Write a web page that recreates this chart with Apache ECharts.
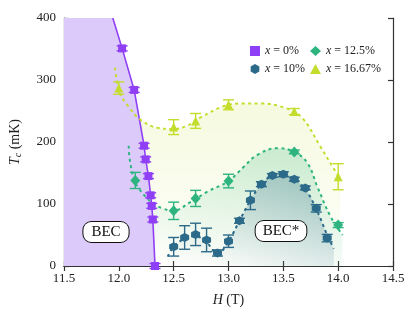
<!DOCTYPE html>
<html>
<head>
<meta charset="utf-8">
<script src="https://cdn.jsdelivr.net/npm/echarts@6/dist/echarts.min.js"></script>
<style>
  html, body { margin: 0; padding: 0; background: #fff; }
  #chart { width: 415px; height: 320px; }
</style>
</head>
<body>
<div id="chart"></div>
<script>
// measured points, x = 0%
const purpleH = [12.03, 12.14, 12.23, 12.245, 12.27, 12.29, 12.30, 12.31, 12.33];
const purpleT = [351, 284, 194, 172, 145, 114, 97, 75, 0];
const purpleErr = [4, 4, 4, 4, 4, 4, 4, 4, 4];
// phase boundary of x = 0% (continued up to the top of the frame)
const bounH = [11.945, 12.03, 12.14, 12.23, 12.245, 12.27, 12.29, 12.30, 12.31, 12.33];
const bounT = [400, 351, 284, 194, 172, 145, 114, 97, 75, 0];

// x = 16.67%
const yellowH = [12.0, 12.5, 12.7, 13.0, 13.6, 14.0];
const yellowT = [287, 224, 234, 260, 249, 144];
const yellowErr = [10, 12, 12, 8, 5, 21];
const yellowCurveH = [11.965, 11.98, 12.01, 12.09, 12.19, 12.35, 12.5, 12.62, 12.75, 12.96, 13.12, 13.3, 13.48, 13.66, 13.84, 13.95, 14.02];
const yellowCurveT = [320, 300, 278, 257, 237, 223, 221, 226, 240, 258, 262, 262, 257, 241, 192, 160, 140];

// x = 12.5%
const greenH = [12.15, 12.5, 12.7, 13.0, 13.6, 14.0];
const greenT = [138, 89, 109, 137, 184, 66];
const greenErr = [13, 14, 13, 11, 3, 4];
const greenCurveH = [12.09, 12.10, 12.14, 12.19, 12.31, 12.40, 12.49, 12.66, 12.81, 13.0, 13.14, 13.26, 13.45, 13.60, 13.72, 13.81, 13.93, 14.04];
const greenCurveT = [194, 171, 140, 123, 101, 93, 89, 104, 120, 137, 160, 179, 190, 184, 166, 128, 80, 50];

// x = 10%
const blueH = [12.5, 12.6, 12.7, 12.8, 12.9, 13.0, 13.1, 13.2, 13.3, 13.4, 13.5, 13.6, 13.7, 13.8, 13.9];
const blueT = [31, 46, 51, 42, 21, 40, 73, 106, 132, 146, 148, 140, 126, 93, 45];
const blueErr = [15, 19, 18, 19, 5, 10, 4, 15, 4, 3, 4, 3, 3, 6, 6];
const blueCurveH = [12.445, 12.5, 12.6, 12.7, 12.8, 12.9, 13.0, 13.1, 13.2, 13.3, 13.4, 13.5, 13.6, 13.7, 13.8, 13.9, 13.96];
const blueCurveT = [15, 31, 44, 48, 38, 20, 40, 73, 106, 132, 146, 149, 140, 124, 92, 50, 28];

const labels = {x0: '0%', x10: '10%', x125: '12.5%', x1667: '16.67%'};

const C_PURPLE = '#8f3ff5';
const C_YELLOW = '#c4dd2c';
const C_GREEN = '#2eb57f';
const C_BLUE = '#2c6a8a';
const FONT = 'Liberation Serif';

const zip = (a, b) => a.map((v, i) => [v, b[i]]);
const zip3 = (a, b, c) => a.map((v, i) => [v, b[i], c[i]]);

function renderErr(params, api) {
  const x = api.value(0), y = api.value(1), e = api.value(2);
  const hi = api.coord([x, y + e]);
  const lo = api.coord([x, y - e]);
  const w = 5.5;
  const style = {stroke: api.visual('color'), lineWidth: 1.4};
  return {
    type: 'group',
    children: [
      {type: 'line', shape: {x1: hi[0], y1: hi[1], x2: lo[0], y2: lo[1]}, style: style},
      {type: 'line', shape: {x1: hi[0] - w, y1: hi[1], x2: hi[0] + w, y2: hi[1]}, style: style},
      {type: 'line', shape: {x1: lo[0] - w, y1: lo[1], x2: lo[0] + w, y2: lo[1]}, style: style}
    ]
  };
}

function errSeries(H, T, E, color) {
  return {
    type: 'custom', renderItem: renderErr, z: 4, silent: true,
    itemStyle: {color: color},
    data: zip3(H, T, E)
  };
}

// soft fill under a guide curve
function fillSeries(H, T, fill) {
  return {
    type: 'line', data: zip(H, T), smooth: 0.4, symbol: 'none', z: 1, silent: true,
    lineStyle: {width: 0},
    areaStyle: {color: fill, opacity: 1}
  };
}

// dashed guide curve
function curveSeries(H, T, color) {
  return {
    type: 'line', data: zip(H, T), smooth: 0.4, symbol: 'none', z: 3, silent: true,
    lineStyle: {color: color, width: 2, type: [3, 3.5]}
  };
}

const hexagon = 'path://M0,-10L8.66,-5L8.66,5L0,10L-8.66,5L-8.66,-5Z';

const legendText = {
  fontFamily: FONT, fontSize: 12, color: '#222',
  rich: {i: {fontFamily: FONT, fontStyle: 'italic', fontSize: 12, color: '#222'}}
};
const legendFmt = n => '{i|x} = ' + labels[n];

const axisCommon = {
  type: 'value',
  axisLine: {show: true, lineStyle: {color: '#333', width: 1.2}},
  axisTick: {show: true, inside: true, length: 5, lineStyle: {color: '#333', width: 1.2}},
  splitLine: {show: false}
};

const option = {
  animation: false,
  backgroundColor: '#fff',
  grid: {left: 60, right: 22, top: 18, bottom: 54},
  legend: [
    {data: ['x0', 'x10'], orient: 'vertical', left: 245, top: 40, itemWidth: 10, itemHeight: 10, itemGap: 6,
     formatter: legendFmt, textStyle: legendText},
    {data: ['x125', 'x1667'], orient: 'vertical', left: 305, top: 40, itemWidth: 11, itemHeight: 10, itemGap: 6,
     formatter: legendFmt, textStyle: legendText}
  ],
  xAxis: [
    Object.assign({}, axisCommon, {
      min: 11.5, max: 14.5, interval: 0.5, position: 'bottom',
      axisLabel: {formatter: v => v.toFixed(1), fontFamily: FONT, fontSize: 13, color: '#222', margin: 6},
      name: '{i|H} (T)', nameLocation: 'middle', nameGap: 27,
      nameTextStyle: {fontFamily: FONT, fontSize: 14, color: '#222',
        rich: {i: {fontFamily: FONT, fontStyle: 'italic', fontSize: 14, color: '#222'}}}
    }),
    Object.assign({}, axisCommon, {
      min: 11.5, max: 14.5, interval: 0.5, position: 'top', axisLabel: {show: false}
    })
  ],
  yAxis: [
    Object.assign({}, axisCommon, {
      min: 0, max: 400, interval: 100, position: 'left',
      axisLabel: {fontFamily: FONT, fontSize: 13, color: '#222', margin: 8},
      name: '{i|T}{s|c} (mK)', nameLocation: 'middle', nameGap: 41, nameRotate: 90,
      nameTextStyle: {fontFamily: FONT, fontSize: 14, color: '#222',
        rich: {
          i: {fontFamily: FONT, fontStyle: 'italic', fontSize: 14, color: '#222'},
          s: {fontFamily: FONT, fontStyle: 'italic', fontSize: 10, color: '#222', padding: [6, 0, 0, 0]}
        }}
    }),
    Object.assign({}, axisCommon, {
      min: 0, max: 400, interval: 100, position: 'right', axisLabel: {show: false}
    })
  ],
  graphic: [
    {type: 'text', x: 106, y: 232, z: 10,
     style: {text: 'BEC', font: '15px "Liberation Serif"', fill: '#111', align: 'center', verticalAlign: 'middle',
       backgroundColor: '#fff', borderColor: '#111', borderWidth: 1, borderRadius: 8, padding: [3, 8, 2, 8]}},
    {type: 'text', x: 281, y: 231, z: 10,
     style: {text: 'BEC*', font: '15px "Liberation Serif"', fill: '#111', align: 'center', verticalAlign: 'middle',
       backgroundColor: '#fff', borderColor: '#111', borderWidth: 1, borderRadius: 8, padding: [3, 7, 2, 7]}}
  ],
  series: [
    // filled regions under the dashed guides
    fillSeries(yellowCurveH, yellowCurveT,
      new echarts.graphic.LinearGradient(0, 0, 0, 1, [
        {offset: 0, color: 'rgba(205,226,80,0.22)'},
        {offset: 1, color: 'rgba(205,226,80,0.02)'}
      ])),
    fillSeries(greenCurveH, greenCurveT,
      new echarts.graphic.LinearGradient(0.5, 0, 0.4, 1, [
        {offset: 0, color: 'rgba(46,181,127,0.22)'},
        {offset: 1, color: 'rgba(46,181,127,0.0)'}
      ])),
    fillSeries(blueCurveH, blueCurveT,
      new echarts.graphic.LinearGradient(0.55, 0, 0.35, 1, [
        {offset: 0, color: 'rgba(44,106,138,0.28)'},
        {offset: 0.6, color: 'rgba(44,106,138,0.12)'},
        {offset: 1, color: 'rgba(44,106,138,0.02)'}
      ])),
    // x = 0% region
    {
      type: 'line', data: [[11.5, 400]].concat(zip(bounH, bounT)), symbol: 'none', silent: true, z: 2,
      lineStyle: {width: 0}, areaStyle: {color: '#dccbfa', opacity: 1}
    },
    {
      type: 'line', data: zip(bounH, bounT), symbol: 'none', silent: true, z: 3,
      lineStyle: {color: C_PURPLE, width: 1.6}
    },
    // dashed guides
    curveSeries(yellowCurveH, yellowCurveT, C_YELLOW),
    curveSeries(greenCurveH, greenCurveT, C_GREEN),
    curveSeries(blueCurveH, blueCurveT, C_BLUE),
    // error bars
    errSeries(purpleH, purpleT, purpleErr, C_PURPLE),
    errSeries(yellowH, yellowT, yellowErr, C_YELLOW),
    errSeries(greenH, greenT, greenErr, C_GREEN),
    errSeries(blueH, blueT, blueErr, C_BLUE),
    // markers
    {name: 'x0', type: 'scatter', data: zip(purpleH, purpleT), symbol: 'rect', symbolSize: 8, z: 5,
     itemStyle: {color: C_PURPLE, opacity: 1}},
    {name: 'x10', type: 'scatter', data: zip(blueH, blueT), symbol: hexagon, symbolSize: 9, z: 5,
     itemStyle: {color: C_BLUE, opacity: 1}},
    {name: 'x125', type: 'scatter', data: zip(greenH, greenT), symbol: 'diamond', symbolSize: [10, 11], z: 5,
     itemStyle: {color: C_GREEN, opacity: 1}},
    {name: 'x1667', type: 'scatter', data: zip(yellowH, yellowT), symbol: 'triangle', symbolSize: 9, z: 5,
     itemStyle: {color: C_YELLOW, opacity: 1}}
  ]
};

const chart = echarts.init(document.getElementById('chart'));
chart.setOption(option);
</script>
</body>
</html>
